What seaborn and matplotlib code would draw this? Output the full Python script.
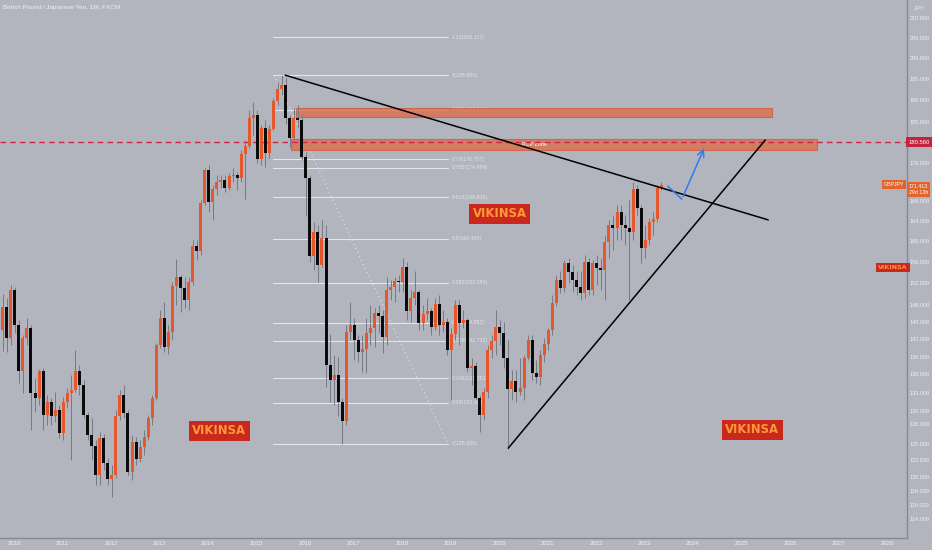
import numpy as np
import pandas as pd
import matplotlib
matplotlib.use("Agg")
import matplotlib.pyplot as plt
import matplotlib.transforms as mtrans
from matplotlib.ticker import NullLocator
from matplotlib.patches import Rectangle
import seaborn as sns

# GBPJPY monthly candles, Oct 2009 .. May 2023
first_open = 143.6
closes = [147.6, 142.1, 150.7, 144.5, 136.6, 142.1, 143.9, 132.9, 132.2, 136.6,
          129.5, 131.5, 129.2, 130.2, 126.6, 131.5, 132.9, 133.4, 136.6, 134.3,
          129.5, 126.3, 124.6, 120.3, 125.8, 122.1, 119.7, 120.3, 129.3, 132.7,
          129.7, 120.7, 125.2, 122.7, 124.5, 126.0, 129.0, 132.1, 141.0, 145.7,
          140.6, 143.2, 151.5, 153.1, 151.1, 148.9, 152.2, 159.1, 158.0, 167.6,
          174.5, 167.8, 170.5, 172.0, 172.4, 170.7, 173.2, 173.4, 172.8, 177.9,
          179.7, 185.9, 186.7, 176.8, 183.6, 178.2, 183.4, 189.9, 192.6, 193.5,
          185.9, 181.4, 185.9, 185.5, 177.2, 172.8, 157.2, 161.8, 155.5, 160.6,
          137.6, 135.1, 135.9, 131.5, 128.5, 143.2, 144.5, 141.9, 139.8, 140.3,
          143.0, 143.9, 146.6, 146.0, 142.4, 150.7, 151.3, 152.4, 152.2, 155.1,
          147.0, 149.3, 150.3, 144.8, 146.4, 147.0, 144.1, 148.2, 144.5, 145.0,
          140.1, 142.9, 148.0, 144.8, 145.3, 137.0, 137.4, 132.2, 129.5, 133.1,
          140.1, 141.6, 144.1, 143.0, 138.8, 133.6, 134.9, 133.1, 133.8, 138.8,
          141.8, 136.2, 135.6, 139.3, 141.2, 143.6, 148.4, 152.6, 151.1, 155.8,
          154.0, 152.6, 151.3, 150.2, 156.0, 150.7, 155.8, 154.9, 154.5, 159.8,
          163.2, 162.6, 165.8, 163.2, 162.6, 161.8, 170.5, 166.6, 158.7, 160.2,
          163.8, 164.4, 170.7, 171.413]
highs = [150.0, 149.2, 151.7, 151.3, 145.3, 142.7, 145.7, 144.5, 135.4, 136.9,
         137.0, 132.6, 132.1, 133.1, 131.0, 132.3, 133.8, 135.9, 140.1, 137.5,
         135.0, 129.9, 129.0, 125.5, 126.8, 126.5, 122.8, 121.8, 130.2, 133.4,
         134.3, 130.2, 126.3, 126.0, 125.5, 127.1, 129.5, 132.6, 141.3, 147.1,
         148.5, 144.5, 152.2, 156.6, 153.6, 153.1, 153.1, 160.2, 160.2, 168.2,
         174.9, 175.5, 171.3, 173.4, 173.4, 173.4, 173.8, 174.9, 174.1, 178.8,
         181.0, 187.8, 189.6, 187.8, 184.3, 185.5, 184.3, 190.6, 194.2, 195.9,
         195.2, 186.6, 188.3, 188.9, 186.6, 178.4, 173.5, 163.8, 163.2, 164.2,
         163.2, 142.9, 139.3, 139.0, 132.1, 144.5, 148.5, 145.7, 142.7, 142.7,
         145.7, 148.0, 147.5, 148.0, 147.1, 153.1, 152.6, 153.1, 153.6, 156.8,
         156.0, 150.7, 154.2, 150.7, 148.0, 149.3, 147.5, 149.3, 149.8, 147.1,
         145.7, 143.9, 148.9, 148.9, 147.1, 145.7, 138.8, 138.1, 132.6, 133.8,
         141.0, 142.7, 147.1, 145.3, 145.0, 141.8, 136.7, 136.7, 138.8, 139.3,
         142.7, 142.7, 138.4, 140.1, 142.1, 143.9, 149.8, 153.6, 154.2, 156.4,
         156.8, 155.5, 154.2, 154.2, 157.4, 156.8, 156.4, 157.4, 156.8, 161.2,
         164.2, 165.2, 167.2, 167.2, 165.2, 168.2, 172.0, 171.3, 167.2, 163.2,
         164.6, 165.8, 171.3, 172.0]
lows = [140.0, 139.7, 141.0, 143.0, 134.5, 133.0, 141.0, 127.1, 129.9, 131.0,
        127.1, 127.8, 127.9, 128.4, 125.8, 125.5, 130.5, 122.5, 133.1, 132.6,
        129.0, 125.5, 122.5, 118.9, 118.9, 121.0, 118.9, 117.1, 119.9, 128.7,
        129.0, 120.3, 119.5, 121.8, 122.2, 123.3, 125.5, 127.9, 131.8, 140.5,
        139.7, 139.5, 141.8, 148.0, 146.8, 147.5, 147.1, 151.7, 156.4, 157.4,
        167.2, 165.8, 164.2, 169.2, 170.7, 169.9, 170.3, 172.0, 170.3, 171.9,
        168.5, 179.2, 182.1, 175.9, 175.5, 175.1, 177.0, 183.2, 188.9, 191.2,
        184.6, 179.5, 181.0, 183.6, 176.6, 165.0, 156.0, 154.5, 152.2, 155.0,
        133.9, 131.5, 131.0, 129.2, 125.0, 127.9, 141.8, 138.4, 138.1, 136.4,
        136.3, 141.0, 140.6, 143.0, 139.6, 141.0, 148.9, 148.5, 150.3, 150.3,
        145.3, 145.0, 148.0, 143.6, 143.6, 145.3, 142.7, 143.6, 142.7, 143.2,
        139.3, 131.8, 141.8, 141.0, 143.9, 136.4, 134.3, 131.8, 126.8, 128.7,
        132.1, 138.8, 139.3, 141.0, 137.0, 124.2, 131.8, 131.5, 132.6, 131.8,
        138.4, 135.1, 134.6, 134.3, 138.1, 140.1, 142.7, 147.9, 150.2, 150.3,
        152.0, 150.3, 149.8, 148.9, 149.3, 149.8, 149.8, 151.7, 150.7, 148.9,
        156.8, 158.3, 160.2, 160.2, 159.3, 148.9, 160.2, 165.2, 155.8, 156.8,
        159.3, 161.2, 163.8, 170.3]

years = list(range(2010, 2029))
price_ticks = [210, 205, 200, 195, 190, 185, 176, 168, 164, 160, 156, 152, 148, 145,
               142, 139, 136, 133, 130, 128, 125, 122.5, 120, 118, 116, 114]

# fibonacci retracement (2015 high -> 2016 low)
fib_high, fib_low = 195.9, 125.0
fib_levels = [1.13, 1, 0.886, 0.73, 0.705, 0.618, 0.5, 0.382, 0.28, 0.236, 0.146, 0.09, 0]
fib_span = [2015.34, 2018.95]

# drawings
res_line_x, res_line_y = [2015.59, 2025.55], [195.9, 164.2]
sup_line_x, sup_line_y = [2020.19, 2025.49], [124.3, 181.0]
path_x, path_y = [2023.48, 2023.77, 2024.25], [171.1, 168.4, 179.7]
zone_upper = dict(x=(2015.81, 2025.63), y=(186.1, 188.3))
zone_pcp = dict(x=(2015.71, 2026.56), y=(178.8, 181.2))
key_level = 180.560
last_price = 171.413

bg = "#b2b5be"
up_col, dn_col, wick_col = "#e8572b", "#0b0b0d", "#777a83"
txt = "#eef0f4"

sns.set_theme(style="dark")
plt.rcParams["font.family"] = ["Liberation Sans", "DejaVu Sans"]

dates = pd.date_range("2009-10-01", periods=len(closes), freq="MS")
df = pd.DataFrame({"close": closes, "high": highs, "low": lows})
df["open"] = [first_open] + closes[:-1]
df["x"] = dates.year + (dates.month - 1) / 12 + 1 / 60
df["up"] = df["close"] >= df["open"]

fig = plt.figure(figsize=(9.32, 5.5), dpi=100, facecolor=bg)
ax = fig.add_axes([0, 12 / 550, 907 / 932, 538 / 550])
ax.set_facecolor(bg)
ax.set_yscale("log")
ax.set_ylim(111.4, 214.7)
ax.set_xlim(2009.711, 2028.412)

# fib levels
for lv in fib_levels:
    pr = fib_low + lv * (fib_high - fib_low)
    ax.plot(fib_span, [pr, pr], color="#eceef3", lw=0.8, alpha=0.85, zorder=1)
    ax.text(fib_span[1] + 0.08, pr, f"{lv:g}({pr:.3f})", fontsize=3.8, color=txt,
            alpha=0.8, va="center", ha="left", zorder=1)
ax.plot([fib_span[0] + 0.02, fib_span[1]], [fib_high, fib_low], color="#eceef3",
        lw=0.8, ls=(0, (1, 3)), alpha=0.8, zorder=1)

# zones
for z in (zone_upper, zone_pcp):
    ax.add_patch(Rectangle((z["x"][0], z["y"][0]), z["x"][1] - z["x"][0], z["y"][1] - z["y"][0],
                           fc="#dd6c4b", ec="#d45a38", lw=0.8, alpha=0.78, zorder=2))
ax.text(sum(zone_pcp["x"]) / 2 - 0.4, 180.0, "PCP Zone", fontsize=4.0, color="white",
        ha="center", va="center", zorder=3)

ax.axhline(key_level, color="#cf2447", lw=1.0, ls=(0, (4, 3)), zorder=3)

# candles
ax.vlines(df["x"], df["low"], df["high"], color=wick_col, lw=0.7, zorder=4)
body_lo = df[["open", "close"]].min(axis=1)
body_h = (df["close"] - df["open"]).abs().clip(lower=0.25)
ax.bar(df["x"], body_h, bottom=body_lo, width=0.062,
       color=np.where(df["up"], up_col, dn_col), linewidth=0, zorder=5)

# trend lines
sns.lineplot(x=res_line_x, y=res_line_y, ax=ax, color="black", lw=1.1, sort=False, zorder=6)
sns.lineplot(x=sup_line_x, y=sup_line_y, ax=ax, color="black", lw=1.1, sort=False, zorder=6)
sns.lineplot(x=path_x[:2], y=path_y[:2], ax=ax, color="#2f7bf0", lw=1.1, sort=False, zorder=6)
ax.annotate("", xy=(path_x[2], path_y[2]), xytext=(path_x[1], path_y[1]),
            arrowprops=dict(arrowstyle="->", color="#2f7bf0", lw=1.1), zorder=6)

# watermark boxes
box = dict(boxstyle="square,pad=0.3", fc="#c8291c", ec="none")
for bx, by in [(2020.02, 165.4), (2014.23, 127.0), (2025.22, 127.1)]:
    ax.text(bx, by, "VIKINSA", fontsize=8.4, fontweight="bold", color="#ff9838",
            family="DejaVu Sans", ha="center", va="center", bbox=box, zorder=7)
ax.text(2028.12, 154.9, "VIKINSA", fontsize=4.6, fontweight="bold", color="#ff9838",
        family="DejaVu Sans", ha="center", va="center",
        bbox=dict(boxstyle="square,pad=0.35", fc="#c8291c", ec="none"), zorder=7)

# axes styling
for s in ("top", "left"):
    ax.spines[s].set_visible(False)
for s in ("right", "bottom"):
    ax.spines[s].set_color("#868991")
    ax.spines[s].set_linewidth(1.0)
ax.yaxis.tick_right()
ax.yaxis.set_minor_locator(NullLocator())
ax.set_yticks(price_ticks)
ax.set_yticklabels([f"{p:.3f}" for p in price_ticks])
ax.set_xticks(years)
ax.set_xticklabels([str(y) for y in years])
ax.tick_params(axis="y", length=0, pad=1.8, labelsize=4.0, labelcolor=txt)
ax.tick_params(axis="x", length=0, pad=2.2, labelsize=4.4, labelcolor=txt)
ax.grid(False)

lab = mtrans.blended_transform_factory(ax.transAxes, ax.transData)
ax.text(1.002, key_level, "180.560", transform=lab, fontsize=4.2, color="white",
        ha="left", va="center", clip_on=False, zorder=9,
        bbox=dict(boxstyle="square,pad=0.4", fc="#c3243f", ec="none"))
ax.text(1.002, last_price - 1.0, f"{last_price:.3f}\n29d 13h", transform=lab, fontsize=3.8,
        color="white", ha="left", va="center", clip_on=False, zorder=9, linespacing=1.3,
        bbox=dict(boxstyle="square,pad=0.35", fc="#e3652d", ec="none"))
ax.text(0.997, last_price, "GBPJPY", transform=lab, fontsize=3.8, color="white",
        ha="right", va="center", clip_on=False, zorder=9,
        bbox=dict(boxstyle="square,pad=0.4", fc="#e3652d", ec="none"))

fig.text(919 / 932, 1 - 8 / 550, "JPY", fontsize=4.2, color=txt, ha="center", va="center")
fig.text(3 / 932, 1 - 7 / 550, "British Pound / Japanese Yen, 1M, FXCM", fontsize=4.6,
         color=txt, ha="left", va="center")

fig.savefig("out.png", dpi=100, facecolor=bg)
